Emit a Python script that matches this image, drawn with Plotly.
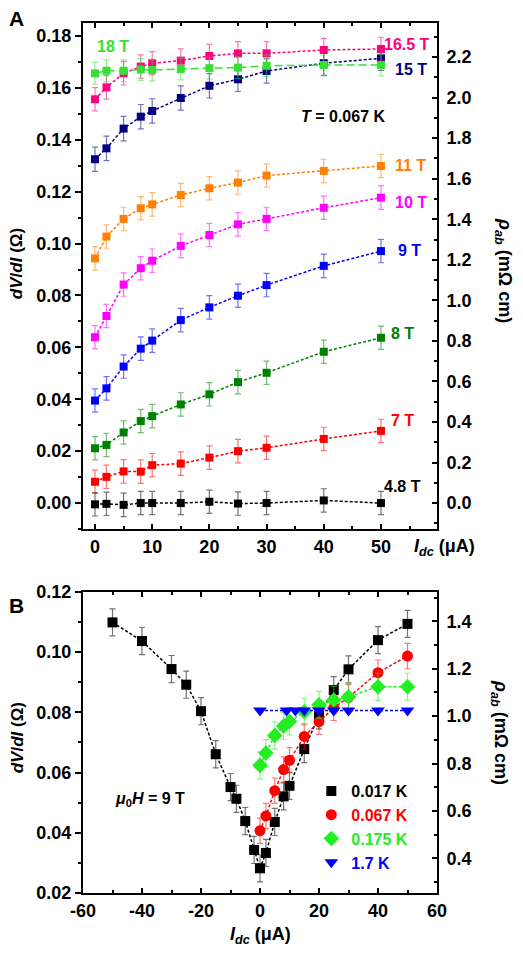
import plotly.graph_objects as go

FONT = "Liberation Sans, Arial, sans-serif"

# ---- panel A: dV/dI vs I_dc at T = 0.067 K (uA, ohm) ----
i_top = [0, 2, 5, 8, 10, 15, 20, 25, 30, 40, 50]
r_4p8T = [-0.0005, -0.0003, -0.0007, 0.0, 0.0, 0.0, 0.0005, -0.0002, 0.0, 0.0010, 0.0]
r_7T = [0.0082, 0.0101, 0.0122, 0.0121, 0.0146, 0.0152, 0.0175, 0.0200, 0.0213, 0.0247, 0.0278]
r_8T = [0.0211, 0.0224, 0.0272, 0.0316, 0.0335, 0.0380, 0.0419, 0.0466, 0.0502, 0.0583, 0.0637]
r_9T = [0.0395, 0.0442, 0.0526, 0.0595, 0.0626, 0.0705, 0.0754, 0.0799, 0.0840, 0.0914, 0.0971]
r_10T = [0.0639, 0.0721, 0.0842, 0.0905, 0.0934, 0.0991, 0.1033, 0.1074, 0.1095, 0.1138, 0.1177]
r_11T = [0.0943, 0.1027, 0.1095, 0.1136, 0.1151, 0.1187, 0.1213, 0.1235, 0.1262, 0.1280, 0.1299]
r_15T = [0.1325, 0.1367, 0.1443, 0.1489, 0.1511, 0.1561, 0.1608, 0.1633, 0.1665, 0.1695, 0.1714]
r_16p5T = [0.1556, 0.1602, 0.1656, 0.1682, 0.1695, 0.1705, 0.1723, 0.1733, 0.1733, 0.1746, 0.1750]
r_18T = [0.1656, 0.1666, 0.1666, 0.1671, 0.1669, 0.1673, 0.1676, 0.1678, 0.1685, 0.1688, 0.1688]

# ---- panel B: mu0H = 9 T, several temperatures ----
i_017K = [-50, -40, -30, -25, -20, -15, -10, -8, -5, -2, 0, 2, 5, 8, 10, 15, 20, 25, 30, 40, 50]
r_017K = [0.1099, 0.1037, 0.0944, 0.0892, 0.0804, 0.0661, 0.0552, 0.0513, 0.0439, 0.0343, 0.0282,
          0.0333, 0.0436, 0.0521, 0.0556, 0.0678, 0.0790, 0.0874, 0.0943, 0.1040, 0.1094]
i_067K = [0, 2, 5, 8, 10, 15, 20, 25, 30, 40, 50]
r_067K = [0.0407, 0.0456, 0.0540, 0.0610, 0.0641, 0.0720, 0.0769, 0.0815, 0.0850, 0.0932, 0.0987]
i_175K = [0, 2, 5, 8, 10, 15, 20, 25, 30, 40, 50]
r_175K = [0.0624, 0.0665, 0.0723, 0.0755, 0.0770, 0.0802, 0.0825, 0.0841, 0.0852, 0.0885, 0.0885]
i_1p7K = [0, 9, 12, 15, 20, 25, 30, 40, 50]
r_1p7K = [0.0806, 0.0806, 0.0806, 0.0806, 0.0806, 0.0806, 0.0806, 0.0806, 0.0806]

# tick labels of panel B's current axis (plain hyphen, as in the original)
b_xticks = [-60, -40, -20, 0, 20, 40, 60]
b_xticktext = ["-60", "-40", "-20", "0", "20", "40", "60"]

# (label, values, colour, error, dash, label x, label y)
top_series = [
    ("4.8 T", r_4p8T, "#000000", 0.0045, "3px,2px", 53.8, 0.0065),
    ("7 T", r_7T, "#FF0000", 0.0045, "3px,2px", 53.7, 0.0320),
    ("8 T", r_8T, "#008000", 0.0045, "3px,2px", 53.7, 0.0655),
    ("9 T", r_9T, "#0000FF", 0.0045, "3px,2px", 55.0, 0.0975),
    ("10 T", r_10T, "#FF00FF", 0.0045, "3px,2px", 55.2, 0.1160),
    ("11 T", r_11T, "#FF8000", 0.0045, "3px,2px", 55.2, 0.1300),
    ("15 T", r_15T, "#000080", 0.0047, "3px,2px", 55.2, 0.1670),
    ("16.5 T", r_16p5T, "#FF0080", 0.0045, "3px,2px", 54.6, 0.1766),
    ("18 T", r_18T, "#33E033", 0.0042, "8px,4px", 3.2, 0.1758),
]

bottom_series = [
    ("0.017 K", i_017K, r_017K, "#000000", "square", 10, 0.0045),
    ("0.067 K", i_067K, r_067K, "#FF0000", "circle", 11, 0.0042),
    ("0.175 K", i_175K, r_175K, "#22EE22", "diamond", 12, 0.0045),
    ("1.7 K", i_1p7K, r_1p7K, "#0000FF", "triangle-down", 12, None),
]


def faded(hex_color, alpha=0.55):
    h = hex_color.lstrip("#")
    r, g, b = int(h[0:2], 16), int(h[2:4], 16), int(h[4:6], 16)
    return f"rgba({r},{g},{b},{alpha})"


fig = go.Figure()

for name, vals, color, err, dash, lx, ly in top_series:
    fig.add_trace(
        go.Scatter(
            x=i_top, y=vals, mode="lines+markers", xaxis="x", yaxis="y",
            line=dict(color=color, width=1.5, dash=dash),
            marker=dict(symbol="square", size=8, color=color),
            error_y=dict(type="constant", value=err, color=faded(color),
                         thickness=1.2, width=3),
            showlegend=False,
        )
    )
    fig.add_annotation(
        x=lx, y=ly, xref="x", yref="y", text=name, showarrow=False,
        xanchor="center", yanchor="middle",
        font=dict(family=FONT, size=16, color=color, weight="bold"),
    )

for name, xs, vals, color, sym, size, err in bottom_series:
    ebar = dict(visible=False)
    if err is not None:
        ebar = dict(type="constant", value=err, color=faded(color), thickness=1.2, width=3)
    fig.add_trace(
        go.Scatter(
            x=xs, y=vals, mode="lines+markers", xaxis="x2", yaxis="y3",
            line=dict(color=color, width=1.5, dash="3px,2px"),
            marker=dict(symbol=sym, size=size, color=color),
            error_y=ebar, showlegend=False,
        )
    )
    # legend entry: marker only, coloured text
    fig.add_trace(
        go.Scatter(
            x=[None], y=[None], mode="markers", xaxis="x2", yaxis="y3",
            marker=dict(symbol=sym, size=size, color=color),
            name=f'<span style="color:{color}">{name}</span>',
        )
    )

# empty traces so the right-hand and top axes get drawn
fig.add_trace(go.Scatter(x=[None], y=[None], xaxis="x3", yaxis="y2", showlegend=False))
fig.add_trace(go.Scatter(x=[None], y=[None], xaxis="x4", yaxis="y4", showlegend=False))

tick_font = dict(family=FONT, size=18, color="black", weight="bold")
base = dict(showline=True, linewidth=2, linecolor="black", showgrid=False,
            zeroline=False, tickfont=tick_font, tickwidth=1.5, tickcolor="black",
            automargin=False)

top_x_range = [-2.1, 59.8]
top_y_range = [-0.010, 0.185]
rho_top = 12.8
bot_y_range = [0.02, 0.12]
rho_bot = 12.7

# page body has an 8px margin, so the figure is 8px smaller than the window
fig.update_layout(
    width=515, height=945,
    margin=dict(l=75, r=86, t=15, b=60),
    plot_bgcolor="white", paper_bgcolor="white",
    font=dict(family=FONT, color="black"),
    xaxis=dict(base, domain=[0, 1], anchor="y", range=top_x_range,
               tickvals=[0, 10, 20, 30, 40, 50], ticks="inside", ticklen=5,
               minor=dict(ticks="inside", ticklen=3, tickvals=[5, 15, 25, 35, 45, 55])),
    xaxis3=dict(base, overlaying="x", side="top", anchor="y", range=top_x_range,
                tickvals=[0, 10, 20, 30, 40, 50], ticks="inside", ticklen=5,
                showticklabels=False,
                minor=dict(ticks="inside", ticklen=3, tickvals=[5, 15, 25, 35, 45, 55])),
    yaxis=dict(base, domain=[0.4184, 1], anchor="x", range=top_y_range,
               tick0=0, dtick=0.02, tickformat=".2f", ticks="outside", ticklen=6,
               minor=dict(ticks="outside", ticklen=3, dtick=0.01, tick0=0)),
    yaxis2=dict(base, overlaying="y", side="right", anchor="x",
                range=[top_y_range[0] * rho_top, top_y_range[1] * rho_top],
                tick0=0, dtick=0.2, tickformat=".1f", ticks="inside", ticklen=5,
                ticklabelstandoff=4,
                minor=dict(ticks="inside", ticklen=3, dtick=0.1, tick0=0)),
    xaxis2=dict(base, domain=[0, 1], anchor="y3", range=[-60, 60],
                tickvals=b_xticks, ticktext=b_xticktext, ticks="inside", ticklen=5,
                minor=dict(ticks="inside", ticklen=3, dtick=10, tick0=-60)),
    xaxis4=dict(base, overlaying="x2", side="top", anchor="y3", range=[-60, 60],
                tickvals=b_xticks, ticks="inside", ticklen=5, showticklabels=False,
                minor=dict(ticks="inside", ticklen=3, dtick=10, tick0=-60)),
    yaxis3=dict(base, domain=[0, 0.346], anchor="x2", range=bot_y_range,
                tick0=0, dtick=0.02, tickformat=".2f", ticks="outside", ticklen=6,
                minor=dict(ticks="outside", ticklen=3, dtick=0.01, tick0=0)),
    yaxis4=dict(base, overlaying="y3", side="right", anchor="x2",
                range=[bot_y_range[0] * rho_bot, bot_y_range[1] * rho_bot],
                tick0=0, dtick=0.2, tickformat=".1f", ticks="inside", ticklen=5,
                ticklabelstandoff=4,
                minor=dict(ticks="inside", ticklen=3, dtick=0.1, tick0=0)),
    legend=dict(x=0.645, y=0.1368, xanchor="left", yanchor="top",
                bgcolor="rgba(0,0,0,0)",
                font=dict(family=FONT, size=16, weight="bold"),
                itemwidth=30, tracegroupgap=0),
    showlegend=True,
)

texts = [
    ("<i>dV</i>/<i>dI</i> (Ω)", -0.186, 0.723, -90, 17),
    ("<i>ρ</i><sub><i>ab</i></sub> (mΩ cm)", 1.186, 0.715, 90, 18),
    ("<i>dV</i>/<i>dI</i> (Ω)", -0.186, 0.178, -90, 17),
    ("<i>ρ</i><sub><i>ab</i></sub> (mΩ cm)", 1.178, 0.185, 90, 18),
    ("<i>I</i><sub><i>dc</i></sub> (μA)", 0.5, -0.0483, 0, 18),
]
for txt, px, py, ang, size in texts:
    fig.add_annotation(x=px, y=py, xref="paper", yref="paper", text=txt,
                       textangle=ang, showarrow=False, xanchor="center", yanchor="middle",
                       font=dict(family=FONT, size=size, color="black", weight="bold"))

# x title of panel A sits right of the last tick label
fig.add_annotation(x=0.929, y=0.3977, xref="paper", yref="paper",
                   text="<i>I</i><sub><i>dc</i></sub> (μA)", showarrow=False,
                   xanchor="left", yanchor="middle",
                   font=dict(family=FONT, size=18, color="black", weight="bold"))

for letter, py in [("A", 1.0057), ("B", 0.331)]:
    fig.add_annotation(x=-0.189, y=py, xref="paper", yref="paper", text=letter,
                       showarrow=False, xanchor="center", yanchor="middle",
                       font=dict(family=FONT, size=21, weight="bold"))

fig.add_annotation(x=43.4, y=0.1488, xref="x", yref="y",
                   text="<i>T</i> = 0.067 K", showarrow=False,
                   font=dict(family=FONT, size=16, weight="bold"))
fig.add_annotation(x=-37.2, y=0.0509, xref="x2", yref="y3",
                   text="<i>μ</i><sub>0</sub><i>H</i> = 9 T", showarrow=False,
                   font=dict(family=FONT, size=16, weight="bold"))

fig.write_html("out.html")
